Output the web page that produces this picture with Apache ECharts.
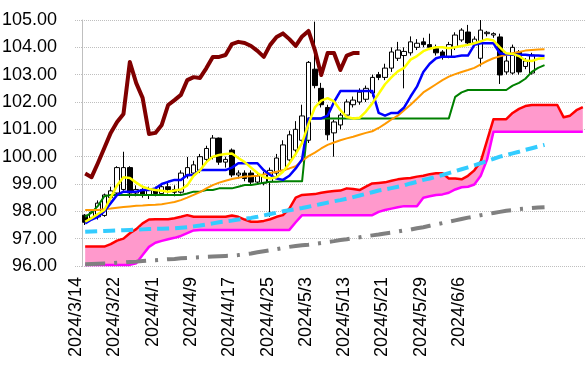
<!DOCTYPE html>
<html><head><meta charset="utf-8">
<script src="https://cdn.jsdelivr.net/npm/echarts@6/dist/echarts.min.js"></script>
<style>html,body{margin:0;padding:0;background:#fff}#c{width:586px;height:379px}</style>
</head><body><div id="c"></div>
<script>
const dates = ['2024/3/14','2024/3/15','2024/3/18','2024/3/19','2024/3/20','2024/3/21','2024/3/22','2024/3/25','2024/3/26','2024/3/27','2024/3/28','2024/3/29','2024/4/1','2024/4/2','2024/4/3','2024/4/4','2024/4/5','2024/4/8','2024/4/9','2024/4/10','2024/4/11','2024/4/12','2024/4/15','2024/4/16','2024/4/17','2024/4/18','2024/4/19','2024/4/22','2024/4/23','2024/4/24','2024/4/25','2024/4/26','2024/4/29','2024/4/30','2024/5/1','2024/5/2','2024/5/3','2024/5/6','2024/5/7','2024/5/8','2024/5/9','2024/5/10','2024/5/13','2024/5/14','2024/5/15','2024/5/16','2024/5/17','2024/5/20','2024/5/21','2024/5/22','2024/5/23','2024/5/24','2024/5/27','2024/5/28','2024/5/29','2024/5/30','2024/5/31','2024/6/3','2024/6/4','2024/6/5','2024/6/6','2024/6/7','2024/6/10','2024/6/11','2024/6/12','2024/6/13','2024/6/14','2024/6/17','2024/6/18','2024/6/19','2024/6/20','2024/6/21','2024/6/24','2024/6/25','2024/6/26','2024/6/27','2024/6/28','2024/7/1','2024/7/2'];
const tickLabels = ['2024/3/14','2024/3/22','2024/4/1','2024/4/9','2024/4/17','2024/4/25','2024/5/3','2024/5/13','2024/5/21','2024/5/29','2024/6/6'];
const yTicks = [96,97,98,99,100,101,102,103,104,105];

// candles: [open, close, low, high]
const candles = [
[97.86,97.6,97.5,97.9],[97.75,97.97,97.7,98.0],[97.8,98.3,97.7,98.4],[97.85,98.6,97.8,98.65],[98.5,98.75,98.4,98.9],
[98.67,99.6,98.6,99.65],[98.8,99.6,98.75,100.18],[99.6,98.67,98.5,99.65],[98.67,98.8,98.55,98.95],[98.8,98.6,98.5,98.85],
[98.6,98.8,98.45,98.9],[98.8,98.65,98.55,98.9],[98.65,98.9,98.6,99.0],[98.9,98.8,98.65,99.05],[98.8,98.7,98.55,98.95],
[98.7,99.4,98.65,99.5],[99.3,99.6,99.2,99.99],[99.4,99.7,99.3,99.85],[99.5,100.0,99.4,100.1],[99.9,100.3,99.8,100.4],
[99.99,100.68,99.9,100.79],[100.68,99.8,99.7,100.7],[99.8,99.9,99.6,100.0],[100.24,99.33,99.25,100.3],[99.33,99.4,99.2,99.5],
[99.4,99.2,99.1,99.5],[99.4,99.07,99.0,99.5],[99.07,99.3,99.0,99.4],[99.03,99.35,98.95,99.45],[99.08,99.5,97.8,99.6],
[99.4,99.95,99.3,100.1],[99.5,100.43,99.45,100.6],[99.88,100.8,99.8,100.95],[100.24,101.0,100.1,101.3],[100.6,101.49,100.5,101.9],
[100.6,103.45,100.5,103.5],[103.2,102.6,102.5,104.94],[102.5,101.9,101.8,102.7],[101.8,100.8,100.6,101.9],[100.87,101.27,100.0,101.35],
[101.16,101.52,101.0,101.6],[101.52,102.0,101.4,102.1],[101.9,102.07,101.8,102.2],[102.0,102.36,101.9,102.5],[102.1,102.5,102.0,102.6],
[102.33,102.9,102.2,103.0],[103.0,102.9,102.8,103.1],[102.9,103.24,102.8,103.4],[103.24,103.83,103.1,104.0],[103.6,103.9,103.5,104.2],
[103.7,103.85,102.5,104.0],[103.8,104.2,103.7,104.4],[104.0,104.15,103.9,104.3],[104.2,104.1,104.0,104.35],[104.1,104.0,103.9,104.5],
[104.0,103.8,103.7,104.1],[103.83,103.65,103.55,103.9],[103.65,104.1,103.6,104.2],[104.0,104.45,103.9,104.55],[104.27,104.63,104.2,104.7],
[104.56,104.16,104.1,104.82],[104.16,104.3,104.1,104.4],[103.6,104.63,103.3,105.0],[104.5,104.55,104.4,104.6],[104.45,104.5,104.35,104.55],
[104.38,102.99,102.66,104.5],[103.1,103.5,103.0,103.7],[103.06,104.0,103.0,104.1],[103.83,103.1,103.0,103.9],[103.3,103.5,103.2,103.6],
[103.06,103.72,103.0,103.8]
];
const chikou = [99.38,99.25,99.77,100.32,100.87,101.27,101.56,103.46,102.69,102.15,100.83,100.87,101.16,101.89,102.07,102.26,102.8,102.91,102.88,103.24,103.65,103.65,103.72,104.12,104.2,104.16,104.05,103.87,103.65,104.09,104.38,104.51,104.3,104.05,104.4,104.6,103.9,102.99,103.79,103.79,103.17,103.7,103.79,103.79];
const tenkan = [97.56,97.7,97.8,98.0,98.3,98.6,98.72,98.72,98.72,98.78,98.78,98.84,99.0,99.08,99.15,99.15,99.33,99.33,99.51,99.51,99.51,99.51,99.51,99.6,99.76,99.76,99.76,99.76,99.5,99.33,99.2,99.15,99.3,99.57,99.9,101.4,101.4,101.4,101.5,102.0,102.4,102.4,102.4,102.4,102.4,102.4,101.6,101.5,101.6,101.6,101.8,102.2,102.56,103.1,103.4,103.6,103.66,103.66,103.66,103.7,103.7,104.09,104.15,104.15,104.15,103.78,103.75,103.73,103.73,103.73,103.7,103.7,103.68];
const ma5 = [97.62,97.75,97.9,98.05,98.5,98.95,99.25,99.22,99.05,98.9,98.82,98.78,98.75,98.72,98.76,98.8,98.95,99.3,99.5,99.8,100.0,100.06,100.1,100.12,99.95,99.8,99.6,99.4,99.25,99.2,99.25,99.45,99.75,100.1,100.5,101.2,101.8,102.05,102.14,102.02,101.7,101.45,101.4,101.42,101.65,101.95,102.3,102.65,102.9,103.12,103.25,103.55,103.68,103.86,103.95,104.0,104.0,103.97,104.0,104.05,104.09,104.15,104.22,104.3,104.25,104.0,103.78,103.76,103.68,103.52,103.5,103.58,103.6];
const ma25 = [98.05,98.05,98.05,98.08,98.1,98.13,98.16,98.18,98.2,98.21,98.23,98.24,98.26,98.3,98.34,98.41,98.5,98.6,98.7,98.84,98.96,99.05,99.12,99.18,99.23,99.27,99.28,99.3,99.35,99.4,99.45,99.5,99.57,99.65,99.85,100.02,100.15,100.3,100.43,100.52,100.6,100.67,100.73,100.8,100.87,100.93,101.05,101.2,101.36,101.5,101.7,101.9,102.12,102.35,102.5,102.65,102.8,102.93,103.02,103.1,103.17,103.25,103.38,103.5,103.6,103.67,103.73,103.78,103.83,103.88,103.9,103.92,103.93];
const kijun = [97.8,97.95,98.2,98.55,98.6,98.6,98.6,98.6,98.6,98.6,98.6,98.6,98.6,98.6,98.6,98.6,98.65,98.72,98.72,98.78,98.78,98.84,98.84,98.84,98.9,98.96,98.96,99.0,99.05,99.08,99.08,99.1,99.1,99.1,99.1,101.4,101.4,101.4,101.4,101.4,101.4,101.4,101.4,101.4,101.4,101.4,101.4,101.4,101.4,101.4,101.4,101.4,101.4,101.4,101.4,101.4,101.4,101.4,102.19,102.35,102.44,102.44,102.44,102.44,102.44,102.44,102.44,102.6,102.7,102.85,103.1,103.25,103.35];
const spanA = [96.71,96.71,96.71,96.71,96.8,96.93,97.0,97.2,97.35,97.56,97.7,97.71,97.71,97.71,97.75,97.8,97.86,97.8,97.8,97.8,97.8,97.8,97.8,97.85,97.8,97.7,97.62,97.62,97.65,97.71,97.8,97.86,98.1,98.5,98.6,98.62,98.63,98.68,98.72,98.74,98.76,98.84,98.82,98.78,98.9,99.02,99.04,99.06,99.12,99.17,99.2,99.22,99.27,99.3,99.36,99.39,99.39,99.2,99.2,99.17,99.3,99.5,99.82,100.6,101.37,101.37,101.37,101.6,101.75,101.85,101.89,101.89,101.89,101.89,101.89,101.44,101.5,101.7,101.81];
const spanB = [96.04,96.04,96.04,96.04,96.04,96.04,96.04,96.04,96.1,96.4,96.7,96.85,96.92,96.98,97.03,97.1,97.2,97.3,97.32,97.32,97.32,97.32,97.32,97.32,97.32,97.32,97.32,97.32,97.32,97.32,97.32,97.32,97.32,97.6,97.86,97.86,97.86,97.86,97.86,97.86,97.86,97.86,97.86,97.86,97.86,97.86,97.98,98.05,98.1,98.15,98.19,98.19,98.19,98.5,98.55,98.6,98.62,98.68,98.8,98.88,98.9,98.98,99.3,99.9,100.91,100.91,100.91,100.91,100.91,100.91,100.91,100.91,100.91,100.91,100.91,100.91,100.91,100.91,100.91];
const ma75 = [97.25,97.26,97.27,97.28,97.29,97.3,97.31,97.32,97.33,97.34,97.35,97.36,97.36,97.37,97.38,97.4,97.42,97.45,97.48,97.52,97.56,97.6,97.63,97.66,97.7,97.73,97.76,97.8,97.85,97.9,97.95,98.0,98.04,98.08,98.12,98.17,98.22,98.27,98.32,98.37,98.41,98.46,98.52,98.58,98.64,98.7,98.76,98.8,98.85,98.9,98.95,99.02,99.08,99.15,99.2,99.27,99.33,99.4,99.47,99.54,99.61,99.68,99.76,99.84,99.92,100.0,100.06,100.12,100.18,100.25,100.31,100.37,100.43];
const ma200 = [96.06,96.07,96.08,96.09,96.1,96.12,96.13,96.15,96.16,96.18,96.2,96.21,96.23,96.25,96.26,96.28,96.29,96.31,96.32,96.34,96.35,96.36,96.37,96.38,96.4,96.43,96.46,96.5,96.54,96.58,96.62,96.66,96.7,96.73,96.76,96.78,96.81,96.84,96.88,96.91,96.95,96.98,97.02,97.05,97.09,97.12,97.15,97.19,97.22,97.26,97.3,97.33,97.38,97.42,97.47,97.52,97.57,97.62,97.67,97.72,97.77,97.81,97.86,97.9,97.94,97.98,98.02,98.05,98.08,98.1,98.12,98.14,98.15];

// cloud band built from the two spans
const cloudLow = spanA.map((a, i) => Math.min(a, spanB[i]));
const cloudBand = spanA.map((a, i) => Math.abs(a - spanB[i]));

const chart = echarts.init(document.getElementById('c'), null, {renderer: 'canvas'});
function line(name, data, color, width, z, type) {
  return {name, type: 'line', data, symbol: 'none', smooth: false, z,
    lineStyle: {color, width, type: type || 'solid', cap: 'butt', join: 'round'}, silent: true, animation: false};
}
chart.setOption({
  animation: false,
  grid: {left: 82, right: 0, top: 20, height: 246, containLabel: false, outerBoundsMode: 'none'},
  xAxis: {
    type: 'category', data: dates, boundaryGap: true,
    axisLine: {show: false}, axisTick: {show: false},
    axisLabel: {
      interval: (idx, val) => tickLabels.includes(val),
      rotate: 90, verticalAlign: 'bottom', margin: 11, hideOverlap: false,
      fontFamily: 'Liberation Sans', fontSize: 18, color: '#000'
    },
    splitLine: {show: false}
  },
  yAxis: {
    type: 'value', min: yTicks[0], max: yTicks[yTicks.length - 1], interval: 1,
    axisLine: {show: true, lineStyle: {color: '#bfbfbf', width: 1}},
    axisTick: {show: true, length: 7, lineStyle: {color: '#bfbfbf', type: 'dotted'}},
    axisLabel: {formatter: v => v.toFixed(2), fontFamily: 'Liberation Sans', fontSize: 18, color: '#000', margin: 25},
    splitLine: {show: true, lineStyle: {color: '#bfbfbf', type: 'dotted', width: 1}}
  },
  series: [
    {name: 'cloudLow', type: 'line', data: cloudLow, stack: 'cloud', symbol: 'none', lineStyle: {width: 0}, z: 1, silent: true},
    {name: 'cloudBand', type: 'line', data: cloudBand, stack: 'cloud', symbol: 'none', lineStyle: {width: 0},
      areaStyle: {color: '#ff99cc', opacity: 1}, z: 1, silent: true},
    line('spanB', spanB, '#ff00ff', 2.5, 2),
    line('spanA', spanA, '#ff0000', 2.5, 2),
    {name: 'price', type: 'candlestick', data: candles, barWidth: 5, z: 3, silent: true,
      itemStyle: {color: '#ffffff', color0: '#000000', borderColor: '#000000', borderColor0: '#000000', borderWidth: 1}},
    line('kijun', kijun, '#008000', 2, 4),
    line('ma25', ma25, '#ff9900', 2, 4),
    line('tenkan', tenkan, '#0000ff', 2.5, 4),
    line('ma5', ma5, '#ffff00', 2.5, 4),
    line('ma75', ma75, '#33ccff', 4, 4, [12, 6]),
    line('ma200', ma200, '#808080', 4, 4, [20, 9, 3, 9]),
    line('chikou', chikou, '#800000', 4, 5)
  ]
});
</script></body></html>
